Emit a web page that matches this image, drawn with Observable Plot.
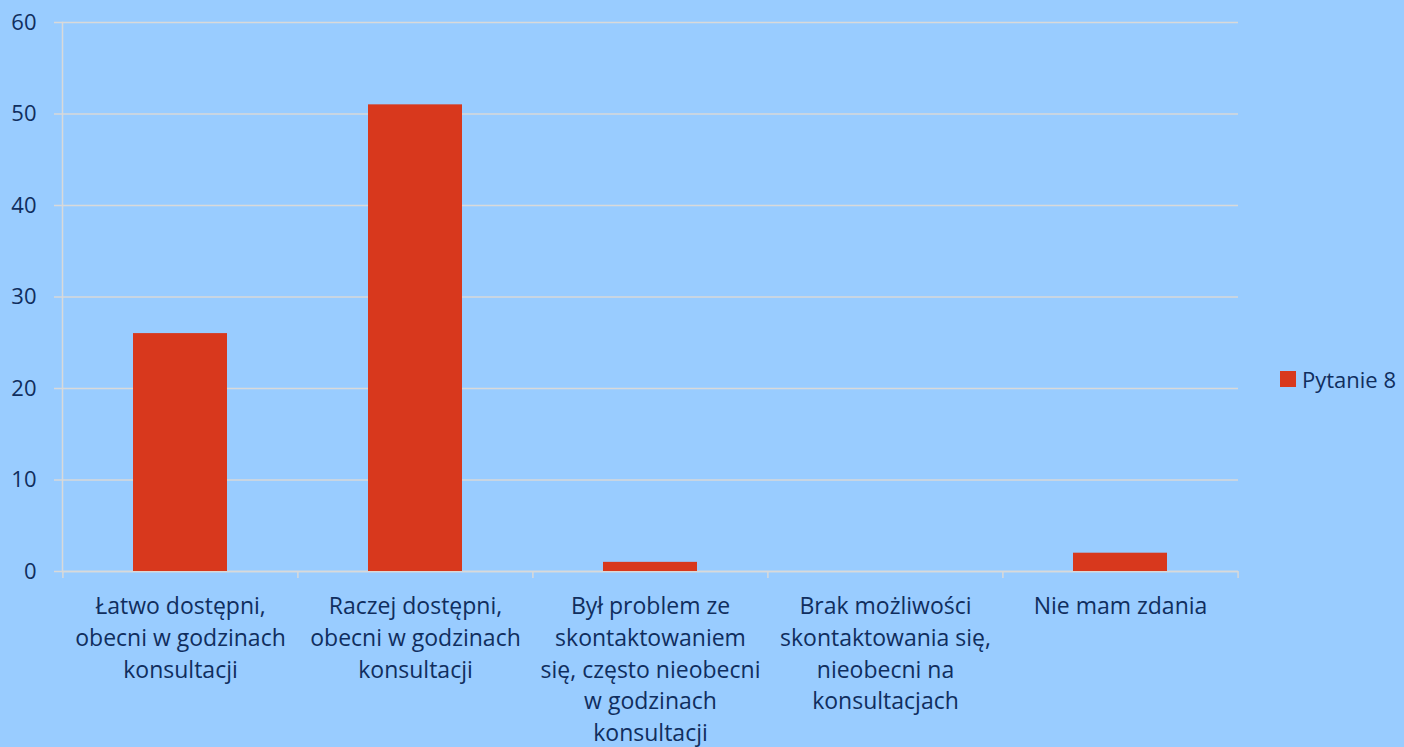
<!DOCTYPE html>
<html>
<head>
<meta charset="utf-8">
<script src="https://cdn.jsdelivr.net/npm/d3@7"></script>
<script src="https://cdn.jsdelivr.net/npm/@observablehq/plot@0.6"></script>
<style>
  html, body { margin: 0; padding: 0; background: #99CCFF; }
  #wrap { position: relative; width: 1404px; height: 747px; overflow: hidden; }
  #legend { position: absolute; left: 1280px; top: 364px; display: flex; align-items: center;
            font-family: "Open Sans", Lato, sans-serif; font-size: 22px; color: #102E5E; white-space: nowrap; }
  #legend .sw { width: 16px; height: 16px; background: #D8381D; margin-right: 6px; }
</style>
</head>
<body>
<div id="wrap"><div id="legend"><div class="sw"></div><span>Pytanie 8</span></div></div>
<script>
const categories = [
  "Łatwo dostępni,\nobecni w godzinach\nkonsultacji",
  "Raczej dostępni,\nobecni w godzinach\nkonsultacji",
  "Był problem ze\nskontaktowaniem\nsię, często nieobecni\nw godzinach\nkonsultacji",
  "Brak możliwości\nskontaktowania się,\nnieobecni na\nkonsultacjach",
  "Nie mam zdania"
];
const values = [26, 51, 1, 0, 2];
const seriesName = "Pytanie 8";
const yTicks = [0, 10, 20, 30, 40, 50, 60];

const data = categories.map((c, i) => ({category: c, value: values[i]}));

const W = 1404, H = 747;
const mL = 62, mR = 166, mT = 22, mB = 176;
const step = (W - mL - mR) / categories.length;
const frameH = H - mT - mB;
const textColor = "#102E5E";
const gridColor = "#D9D9D9";

const chart = Plot.plot({
  width: W,
  height: H,
  marginLeft: mL,
  marginRight: mR,
  marginTop: mT,
  marginBottom: mB,
  style: {background: "transparent", fontFamily: "'Open Sans', Lato, sans-serif", fontSize: "23px", color: textColor},
  x: {domain: categories, paddingInner: 0.6, paddingOuter: 0.3},
  y: {domain: [0, 60]},
  marks: [
    Plot.gridY(yTicks, {stroke: gridColor, strokeOpacity: 1, strokeWidth: 1.5}),
    Plot.axisY(yTicks, {tickSize: 8, tickPadding: 18, stroke: gridColor, strokeOpacity: 1, strokeWidth: 1.5, fill: textColor, label: null, fontSize: 22}),
    Plot.frame({anchor: "left", stroke: gridColor, strokeWidth: 1.5}),
    Plot.ruleY([0], {stroke: gridColor, strokeWidth: 1.5}),
    Plot.ruleX(categories, {x: d => d, dx: -step / 2, insetTop: frameH, insetBottom: -7, stroke: gridColor, strokeWidth: 1.5}),
    Plot.ruleX([categories[categories.length - 1]], {x: d => d, dx: step / 2, insetTop: frameH, insetBottom: -7, stroke: gridColor, strokeWidth: 1.5}),
    Plot.barY(data, {x: "category", y: "value", fill: "#D8381D"}),
    Plot.axisX({tickSize: 0, tickPadding: 20, fill: textColor, label: null, lineHeight: 1.38, fontSize: 23})
  ]
});
document.getElementById("wrap").prepend(chart);
chart.style.position = "absolute";
chart.style.left = "0";
chart.style.top = "0";
</script>
</body>
</html>
